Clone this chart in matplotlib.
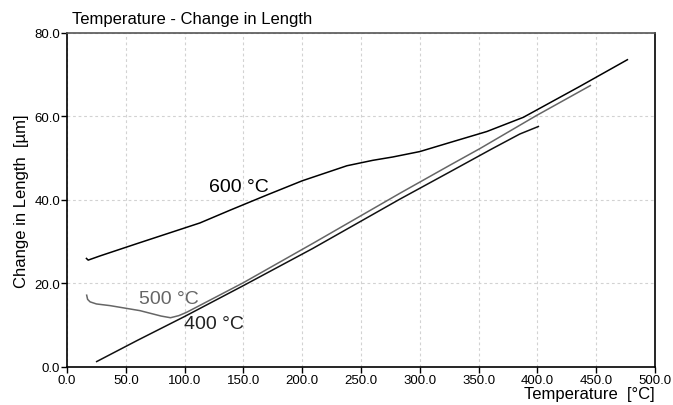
import matplotlib.pyplot as plt

plt.rcParams['font.family'] = ['Liberation Sans', 'DejaVu Sans']

# DATA
t600 = [16.5, 18.0, 28.0, 60.0, 113.0, 139.0, 170.0, 200.0, 238.0, 260.0, 277.0, 300.0, 326.0, 357.0, 388.0, 436.0, 476.5]
l600 = [26.0, 25.6, 26.6, 29.6, 34.5, 37.6, 41.2, 44.6, 48.2, 49.5, 50.3, 51.6, 53.8, 56.4, 59.8, 67.2, 73.6]

t500 = [16.7, 17.5, 19.6, 25.0, 36.6, 62.0, 80.0, 88.0, 95.0, 101.7, 150.0, 209.0, 283.0, 326.0, 351.0, 399.0, 445.0]
l500 = [17.2, 16.2, 15.6, 15.1, 14.7, 13.5, 12.2, 11.8, 12.3, 13.1, 20.2, 29.6, 41.6, 48.4, 52.3, 60.2, 67.4]

t400 = [25.2, 60.0, 100.0, 150.0, 209.0, 283.0, 326.0, 361.0, 385.0, 400.8]
l400 = [1.3, 6.4, 12.1, 19.5, 28.4, 40.2, 46.8, 52.2, 55.8, 57.6]

xticks = [0, 50, 100, 150, 200, 250, 300, 350, 400, 450, 500]
yticks = [0, 20, 40, 60, 80]

fig = plt.figure(figsize=(6.73, 4.06), dpi=100)
ax = fig.add_axes([0.0996, 0.0936, 0.8737, 0.8227])

ax.plot(t600, l600, color='black', linewidth=1.1)
ax.plot(t500, l500, color='#666666', linewidth=1.1)
ax.plot(t400, l400, color='#111111', linewidth=1.1)

ax.text(121, 43.2, '600 °C', fontsize=14, color='black', va='center', ha='left')
ax.text(61, 16.4, '500 °C', fontsize=14, color='#666666', va='center', ha='left')
ax.text(99.5, 10.3, '400 °C', fontsize=14, color='#222222', va='center', ha='left')

ax.set_xlim(0, 500)
ax.set_ylim(0, 80)
ax.set_xticks(xticks)
ax.set_yticks(yticks)
ax.set_xticklabels(['%.1f' % v for v in xticks], fontsize=9.5)
ax.set_yticklabels(['%.1f' % v for v in yticks], fontsize=9.5)
ax.tick_params(direction='out', length=4, width=1, pad=1)
ax.grid(True, color='#d2d2d2', linestyle=(0, (2.5, 2.5)), linewidth=0.8)

for s in ['left', 'bottom', 'right']:
    ax.spines[s].set_color('black')
    ax.spines[s].set_linewidth(1.2)
ax.spines['top'].set_color('#555555')
ax.spines['top'].set_linewidth(1.2)

fig.text(0.107, 0.933, 'Temperature - Change in Length', fontsize=12, ha='left', va='bottom')
ax.set_ylabel('Change in Length  [µm]', fontsize=12, labelpad=4)
fig.text(0.973, 0.01, 'Temperature  [°C]', fontsize=12, ha='right', va='bottom')

plt.savefig('out.png', dpi=100)
